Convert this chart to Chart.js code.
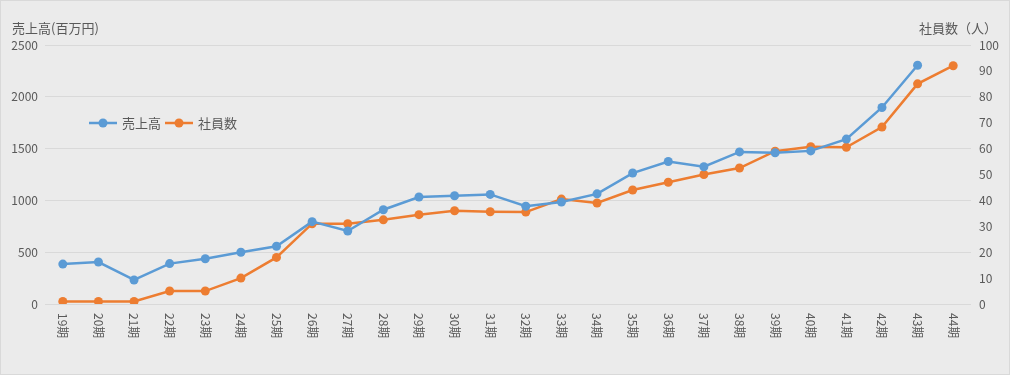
<!DOCTYPE html>
<html><head><meta charset="utf-8">
<script src="https://cdn.jsdelivr.net/npm/chart.js@4.4.1/dist/chart.umd.min.js"></script>
<style>
html,body{margin:0;padding:0;background:#fff;}
#wrap{position:relative;width:1010px;height:375px;box-sizing:border-box;border:1px solid #d9d9d9;background:#ebebeb;}
canvas{display:block;}
</style></head>
<body>
<div id="wrap"><canvas id="c" width="1008" height="373"></canvas></div>
<script>
const categories = ["19期","20期","21期","22期","23期","24期","25期","26期","27期","28期","29期","30期","31期","32期","33期","34期","35期","36期","37期","38期","39期","40期","41期","42期","43期","44期"];
const salesLabel = "売上高";
const staffLabel = "社員数";
const sales = [385,405,232,390,437,500,557,795,705,910,1033,1045,1058,943,985,1063,1264,1375,1325,1468,1460,1478,1592,1897,2305,null];
const staff = [1,1,1,5,5,10,18,31,31,32.5,34.5,36,35.6,35.5,40.5,39,44,47,50,52.5,59,60.7,60.5,68.3,85,92];
const leftTitle = "売上高(百万円)";
const rightTitle = "社員数（人）";

const FONT = "'Noto Sans CJK JP','Noto Sans',sans-serif";
const GRAY = "#595959";
const BLUE = "#5b9bd5";
const ORANGE = "#ed7d31";

const extras = {
  id:'extras',
  afterDraw(chart){
    const ctx = chart.ctx;
    const x = chart.scales.x;
    ctx.save();
    ctx.fillStyle = GRAY;
    ctx.font = "12px " + FONT;
    ctx.textAlign = 'left';
    ctx.textBaseline = 'middle';
    categories.forEach((c,i)=>{
      const px = x.getPixelForValue(i);
      ctx.save();
      ctx.translate(px, x.top + 9);
      ctx.rotate(Math.PI/2);
      ctx.fillText(c, 0, 0);
      ctx.restore();
    });
    ctx.font = "13px " + FONT;
    ctx.textBaseline = 'middle';
    ctx.textAlign = 'left';
    ctx.fillText(leftTitle, 11, 27);
    ctx.textAlign = 'right';
    ctx.fillText(rightTitle, 996, 27);
    const ly = 122;
    const items = [{l:salesLabel,c:BLUE,x:88},{l:staffLabel,c:ORANGE,x:164}];
    ctx.font = "13px " + FONT;
    ctx.textAlign = 'left';
    items.forEach(it=>{
      ctx.strokeStyle = it.c; ctx.lineWidth = 2.5;
      ctx.beginPath(); ctx.moveTo(it.x, ly); ctx.lineTo(it.x+28, ly); ctx.stroke();
      ctx.fillStyle = it.c;
      ctx.beginPath(); ctx.arc(it.x+14, ly, 4.5, 0, Math.PI*2); ctx.fill();
      ctx.fillStyle = GRAY;
      ctx.fillText(it.l, it.x+33, ly);
    });
    ctx.restore();
  }
};

new Chart(document.getElementById('c'), {
  type:'line',
  data:{
    labels: categories,
    datasets:[
      {label:salesLabel, data:sales, yAxisID:'y', borderColor:BLUE, backgroundColor:BLUE, borderWidth:2.5, pointRadius:4.5, pointBackgroundColor:BLUE, pointBorderWidth:0, tension:0},
      {label:staffLabel, data:staff, yAxisID:'y1', borderColor:ORANGE, backgroundColor:ORANGE, borderWidth:2.5, pointRadius:4.5, pointBackgroundColor:ORANGE, pointBorderWidth:0, tension:0}
    ]
  },
  options:{
    responsive:false,
    animation:false,
    events:[],
    layout:{padding:{top:44,left:0,right:0,bottom:0}},
    plugins:{legend:{display:false}, tooltip:{enabled:false}},
    scales:{
      x:{
        offset:true,
        grid:{display:false},
        border:{display:false},
        ticks:{display:false},
        afterFit(s){ s.height = 373-303; }
      },
      y:{
        position:'left', min:0, max:2500,
        ticks:{stepSize:500, color:GRAY, font:{size:12, family:FONT}, padding:7, callback:v=>String(v)},
        grid:{color:'#d9d9d9', lineWidth:1, drawTicks:false},
        border:{display:false},
        afterFit(s){ s.width = 44; }
      },
      y1:{
        position:'right', min:0, max:100,
        ticks:{stepSize:10, color:GRAY, font:{size:12, family:FONT}, padding:8, callback:v=>String(v)},
        grid:{display:false, drawTicks:false},
        border:{display:false},
        afterFit(s){ s.width = 38; }
      }
    }
  },
  plugins:[extras]
});
</script>
</body></html>
